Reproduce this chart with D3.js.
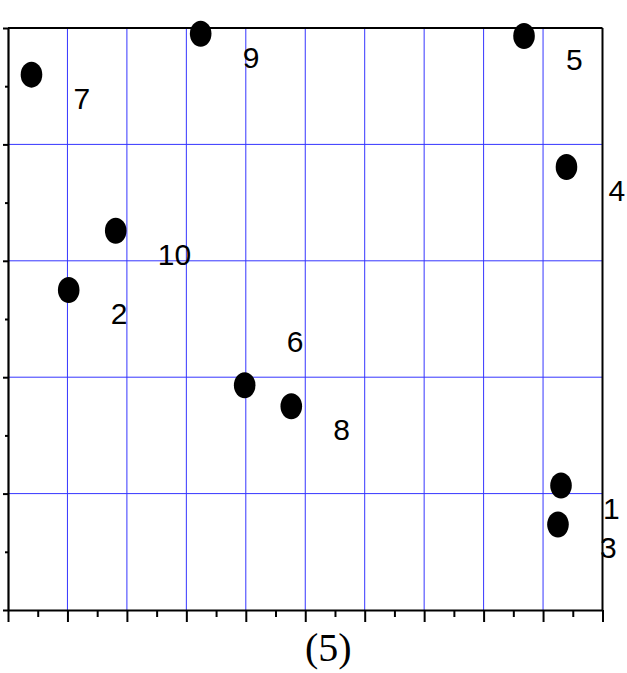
<!DOCTYPE html>
<html>
<head>
<meta charset="utf-8">
<script src="https://cdn.jsdelivr.net/npm/d3@7"></script>
<style>
  html, body { margin: 0; padding: 0; background: #fff; }
  svg { display: block; }
</style>
</head>
<body>
<svg id="chart" width="627" height="673"></svg>
<script>
// ---- data ----
const labels  = ["1", "2", "3", "4", "5", "6", "7", "8", "9", "10"];
const xValues = [9.302, 1.021, 9.251, 9.394, 8.680, 3.981, 0.395, 4.765, 3.241, 1.812];
const yValues = [1.070, 2.749, 0.735, 3.806, 4.931, 1.931, 4.599, 1.751, 4.951, 3.258];
const labelSide = ["below", "below", "below", "below", "below", "above", "below", "below", "below", "below"];
const xTicks = [0, 1, 2, 3, 4, 5, 6, 7, 8, 9, 10];
const yTicks = [0, 1, 2, 3, 4, 5];
const xMinorTicks = [0.5, 1.5, 2.5, 3.5, 4.5, 5.5, 6.5, 7.5, 8.5, 9.5];
const yMinorTicks = [0.5, 1.5, 2.5, 3.5, 4.5];
const xTitle = "(5)";

// ---- layout ----
(function () {
const svg = d3.select("#chart");
const pLeft = 8, pRight = 602.5, pTop = 28, pBottom = 610;
const x = d3.scaleLinear().domain([0, 10]).range([pLeft, pRight]);
const y = d3.scaleLinear().domain([0, 5]).range([pBottom, pTop]);
const gridColor = "#3535ff";

// grid
svg.append("g").selectAll("line").data(xTicks.slice(1, -1)).join("line")
  .attr("x1", d => x(d)).attr("x2", d => x(d))
  .attr("y1", pTop).attr("y2", pBottom)
  .attr("stroke", gridColor).attr("stroke-width", 1);
svg.append("g").selectAll("line").data(yTicks.slice(1, -1)).join("line")
  .attr("y1", d => y(d)).attr("y2", d => y(d))
  .attr("x1", pLeft).attr("x2", pRight)
  .attr("stroke", gridColor).attr("stroke-width", 1);

// frame (top + right)
svg.append("line").attr("x1", pLeft).attr("x2", pRight).attr("y1", pTop).attr("y2", pTop)
  .attr("stroke", "#000").attr("stroke-width", 2);
svg.append("line").attr("x1", pRight).attr("x2", pRight).attr("y1", pTop).attr("y2", pBottom)
  .attr("stroke", "#000").attr("stroke-width", 2);

// bottom axis
svg.append("g").attr("transform", `translate(0,${pBottom})`)
  .call(d3.axisBottom(x).tickValues(xTicks).tickSize(12).tickSizeOuter(0).tickFormat(""));
const xAxisMinor = svg.append("g").attr("transform", `translate(0,${pBottom})`)
  .call(d3.axisBottom(x).tickValues(xMinorTicks).tickSize(7).tickSizeOuter(0).tickFormat(""));
xAxisMinor.select(".domain").remove();

// left axis
svg.append("g").attr("transform", `translate(${pLeft},0)`)
  .call(d3.axisLeft(y).tickValues(yTicks).tickSize(5).tickSizeOuter(0).tickFormat(""));
const yAxisMinor = svg.append("g").attr("transform", `translate(${pLeft},0)`)
  .call(d3.axisLeft(y).tickValues(yMinorTicks).tickSize(3).tickSizeOuter(0).tickFormat(""));
yAxisMinor.select(".domain").remove();

svg.selectAll(".domain").attr("stroke", "#000").attr("stroke-width", 2.2);
svg.selectAll(".tick line").attr("stroke", "#000").attr("stroke-width", 2);

// points
const pts = labels.map((l, i) => ({ label: l, x: xValues[i], y: yValues[i], side: labelSide[i] }));
svg.append("g").selectAll("ellipse").data(pts).join("ellipse")
  .attr("cx", d => x(d.x)).attr("cy", d => y(d.y))
  .attr("rx", 10.8).attr("ry", 13)
  .attr("fill", "#000");

// labels
svg.append("g").selectAll("text").data(pts).join("text")
  .attr("x", d => x(d.x) + 42)
  .attr("y", d => y(d.y) + (d.side === "above" ? -33 : 34))
  .attr("font-family", "'Liberation Sans', Arial, sans-serif")
  .attr("font-size", 30)
  .attr("fill", "#000")
  .text(d => d.label);

// x title
svg.append("text")
  .attr("x", 328.3).attr("y", 661)
  .attr("text-anchor", "middle")
  .attr("font-family", "'Liberation Serif', 'Times New Roman', serif")
  .attr("font-size", 40)
  .attr("fill", "#000")
  .text(xTitle);
})();
</script>
</body>
</html>
